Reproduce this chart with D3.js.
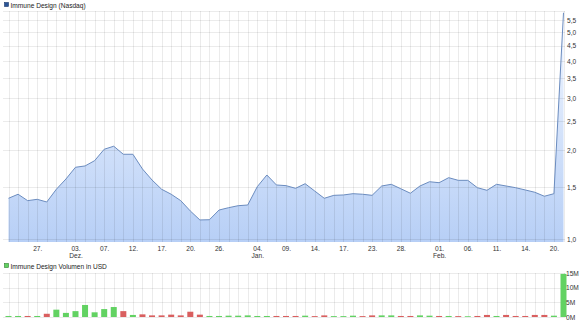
<!DOCTYPE html>
<html>
<head>
<meta charset="utf-8">
<script src="https://cdn.jsdelivr.net/npm/d3@7"></script>
<style>
  body { margin: 0; background: #fff; }
  svg { display: block; font-family: Tahoma, "Liberation Sans", Arial, sans-serif; }
  .axis text { fill: #333; font-size: 6.6px; }
  .legend { fill: #222; font-size: 6.6px; }
</style>
</head>
<body>
<svg id="chart" width="582" height="322"></svg>
<script>
// closing prices (USD), one per trading day
const prices = [1.373,1.417,1.348,1.362,1.334,1.473,1.595,1.748,1.766,1.840,
  2.011,2.059,1.934,1.934,1.725,1.583,1.473,1.417,1.348,1.244,
  1.160,1.162,1.253,1.276,1.296,1.303,1.503,1.646,1.523,1.515,
  1.484,1.538,1.453,1.373,1.405,1.409,1.423,1.417,1.405,1.511,
  1.531,1.479,1.428,1.511,1.562,1.550,1.612,1.579,1.579,1.491,
  1.461,1.531,1.511,1.491,1.465,1.439,1.395,1.423,5.82];

// volume in million USD
const volumes = [0.35,0.35,0.35,0.35,1.1,2.5,1.4,2.0,4.1,1.6,
  2.7,3.4,2.0,0.7,0.9,0.55,0.55,0.8,0.55,1.8,
  0.8,0.35,0.35,0.45,0.45,0.55,0.35,0.35,0.35,0.35,
  0.35,0.45,0.3,0.55,0.3,0.3,0.45,0.3,0.55,0.55,
  0.55,0.35,0.35,0.55,0.45,0.35,0.35,0.3,0.25,0.35,
  0.7,0.35,0.7,0.35,0.35,0.7,0.7,0.45,14.7];

// x axis labels: trading day index, day label, month label
const tickIdx   = [3, 7, 10, 13, 16, 19, 22, 26, 29, 32, 35, 38, 41, 45, 48, 51, 54, 57];
const tickDay   = ["27.","03.","07.","12.","17.","20.","26.","04.","09.","14.","17.","23.","28.","01.","06.","11.","14.","20."];
const tickMonth = ["", "Dez.", "", "", "", "", "", "Jan.", "", "", "", "", "", "Feb.", "", "", "", ""];

const priceTicks = [1.0, 1.5, 2.0, 2.5, 3.0, 3.5, 4.0, 4.5, 5.0, 5.5];
const volTicks = [0, 5, 10, 15];

const svg = d3.select("#chart");

const gridLeft = 3, gridRight = 565;
const x = d3.scaleLinear().domain([0, prices.length - 1]).range([8.5, 563.5]);
const y = d3.scaleLog().domain([0.977, 5.9]).range([242, 11]);
const yv = d3.scaleLinear().domain([0, 15]).range([317, 273]);

// gradient for the area
const defs = svg.append("defs");
const grad = defs.append("linearGradient")
  .attr("id", "areaGrad")
  .attr("gradientUnits", "userSpaceOnUse")
  .attr("x1", 0).attr("y1", y.range()[1]).attr("x2", 0).attr("y2", y.range()[0]);
grad.append("stop").attr("offset", "0%").attr("stop-color", "#f4f8ff");
grad.append("stop").attr("offset", "100%").attr("stop-color", "#b7cff6");

// ---- price panel
const area = d3.area()
  .x((d, i) => x(i))
  .y0(y.range()[0])
  .y1(d => y(d));

svg.append("path")
  .datum(prices)
  .attr("fill", "url(#areaGrad)")
  .attr("d", area);

const grid = svg.append("g").attr("stroke", "rgba(0,0,0,0.08)").attr("stroke-width", 1);
grid.selectAll(".vg")
  .data(prices)
  .join("line")
  .attr("x1", (d, i) => Math.round(x(i)) + 0.5)
  .attr("x2", (d, i) => Math.round(x(i)) + 0.5)
  .attr("y1", y.range()[1])
  .attr("y2", y.range()[0]);
grid.selectAll(".hg")
  .data(priceTicks)
  .join("line")
  .attr("x1", gridLeft).attr("x2", gridRight)
  .attr("y1", d => Math.round(y(d)) + 0.5)
  .attr("y2", d => Math.round(y(d)) + 0.5);
grid.append("line")
  .attr("x1", gridLeft).attr("x2", gridRight)
  .attr("y1", y.range()[1] + 0.5).attr("y2", y.range()[1] + 0.5);

svg.append("path")
  .datum(prices)
  .attr("fill", "none")
  .attr("stroke", "#6b8cbf")
  .attr("stroke-width", 1)
  .attr("d", d3.line().x((d, i) => x(i)).y(d => y(d)));

const yAxis = d3.axisRight(y)
  .tickValues(priceTicks)
  .tickFormat(d => d.toFixed(1).replace(".", ","))
  .tickSize(0)
  .tickPadding(0);
svg.append("g")
  .attr("class", "axis")
  .attr("transform", "translate(567,0)")
  .call(yAxis)
  .call(g => g.select(".domain").remove());

const xAxis = d3.axisBottom(x)
  .tickValues(tickIdx)
  .tickFormat((d, i) => tickDay[i])
  .tickSize(0)
  .tickPadding(0);
const xg = svg.append("g")
  .attr("class", "axis")
  .attr("transform", "translate(0,246)")
  .call(xAxis)
  .call(g => g.select(".domain").remove());
xg.selectAll(".tick")
  .append("text")
  .attr("y", 7)
  .attr("dy", "0.71em")
  .attr("text-anchor", "middle")
  .text((d, i) => tickMonth[i]);

// legend top
svg.append("rect").attr("x", 4.5).attr("y", 2.5).attr("width", 4).attr("height", 4)
  .attr("fill", "#2a5597").attr("stroke", "#1b3a6b").attr("stroke-width", 0.6);
svg.append("text").attr("class", "legend").attr("x", 10.5).attr("y", 7.5)
  .text("Immune Design (Nasdaq)");

// ---- volume panel
const vgrid = svg.append("g").attr("stroke", "rgba(0,0,0,0.08)").attr("stroke-width", 1);
vgrid.selectAll(".vg")
  .data(volumes)
  .join("line")
  .attr("x1", (d, i) => Math.round(x(i)) + 0.5)
  .attr("x2", (d, i) => Math.round(x(i)) + 0.5)
  .attr("y1", yv.range()[1])
  .attr("y2", yv.range()[0]);
vgrid.selectAll(".hg")
  .data(volTicks)
  .join("line")
  .attr("x1", gridLeft).attr("x2", gridRight)
  .attr("y1", d => Math.round(yv(d)) + 0.5)
  .attr("y2", d => Math.round(yv(d)) + 0.5);

svg.append("g")
  .selectAll("rect")
  .data(volumes)
  .join("rect")
  .attr("x", (d, i) => x(i) - 3)
  .attr("width", 6)
  .attr("y", d => yv(d))
  .attr("height", d => yv(0) - yv(d))
  .attr("fill", (d, i) => (i === 0 || prices[i] >= prices[i - 1]) ? "#62d262" : "#d95f5f");

const yvAxis = d3.axisRight(yv)
  .tickValues(volTicks)
  .tickFormat(d => d + "M")
  .tickSize(0)
  .tickPadding(0);
svg.append("g")
  .attr("class", "axis")
  .attr("transform", "translate(566,0)")
  .call(yvAxis)
  .call(g => g.select(".domain").remove());

svg.append("rect").attr("x", 4.5).attr("y", 263.5).attr("width", 4).attr("height", 4)
  .attr("fill", "#62d262").attr("stroke", "#2f7f2f").attr("stroke-width", 0.6);
svg.append("text").attr("class", "legend").attr("x", 10.5).attr("y", 268.5)
  .text("Immune Design Volumen in USD");
</script>
</body>
</html>
